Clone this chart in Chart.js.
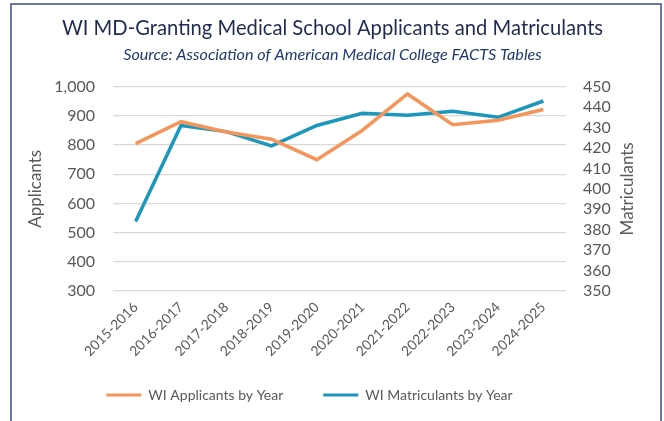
<!DOCTYPE html>
<html>
<head>
<meta charset="utf-8">
<script src="https://cdn.jsdelivr.net/npm/chart.js@4.4.1/dist/chart.umd.min.js"></script>
<style>
  html, body { margin: 0; padding: 0; background: #ffffff; }
  #wrap { position: relative; width: 664px; height: 421px; overflow: hidden; }
  #frame { position: absolute; left: 10px; top: 3px; width: 648px; height: 440px;
           border: 2px solid #6A7AA8; border-bottom: none; pointer-events: none; }
  canvas { position: absolute; left: 0; top: 0; }
</style>
</head>
<body>
<div id="wrap">
  <canvas id="c" width="664" height="421"></canvas>
  <div id="frame"></div>
</div>
<script>
const categories = ['2015-2016','2016-2017','2017-2018','2018-2019','2019-2020','2020-2021','2021-2022','2022-2023','2023-2024','2024-2025'];
const applicants = [805, 880, 845, 820, 750, 850, 975, 870, 885, 922];
const matriculants = [384, 431, 428, 421, 431, 437, 436, 438, 435, 443];
const titleText = 'WI MD-Granting Medical School Applicants and Matriculants';
const subtitleText = 'Source: Association of American Medical College FACTS Tables';
const leftAxisTitle = 'Applicants';
const rightAxisTitle = 'Matriculants';

const FONT = 'Lato, "Open Sans", sans-serif';
const GRAY = '#595959';
const ORANGE = '#F4965B';
const TEAL = '#1C97BC';

const tweaks = {
  id: 'tweaks',
  afterLayout(chart) {
    const lg = chart.legend;
    if (lg) { lg.left -= 23; lg.right -= 23; }
    // let the rotated category labels extend left of the plot area
    chart.scales.x._computeLabelArea = () => undefined;
  },
  afterDraw(chart) {
    // right axis title, reading bottom-to-top like the left one
    const s = chart.scales.y1;
    const ctx = chart.ctx;
    ctx.save();
    ctx.translate(s.right - 12, (chart.chartArea.top + chart.chartArea.bottom) / 2);
    ctx.rotate(-Math.PI / 2);
    ctx.textAlign = 'center';
    ctx.textBaseline = 'middle';
    ctx.fillStyle = GRAY;
    ctx.font = '17px ' + FONT;
    ctx.fillText(rightAxisTitle, 0, 0);
    ctx.restore();
  }
};

new Chart(document.getElementById('c'), {
  type: 'line',
  data: {
    labels: categories,
    datasets: [
      { label: 'WI Applicants by Year', data: applicants, yAxisID: 'y',
        borderColor: ORANGE, backgroundColor: ORANGE, borderWidth: 3.5,
        pointRadius: 0, tension: 0 },
      { label: 'WI Matriculants by Year', data: matriculants, yAxisID: 'y1',
        borderColor: TEAL, backgroundColor: TEAL, borderWidth: 3.5,
        pointRadius: 0, tension: 0 }
    ]
  },
  options: {
    responsive: false,
    animation: false,
    layout: { padding: { left: 25, right: 24, top: 3, bottom: 9 } },
    plugins: {
      title: { display: true, text: titleText, color: '#1F2B50',
        font: { family: FONT, size: 20.2, weight: 'normal' }, padding: { top: 13, bottom: 5 } },
      subtitle: { display: true, text: subtitleText, color: '#1F3A70',
        font: { family: FONT, size: 16.2, style: 'italic' }, padding: { top: 0, bottom: 22 } },
      legend: { position: 'bottom',
        labels: { color: GRAY, font: { family: FONT, size: 14 }, boxWidth: 35, boxHeight: 3, padding: 40,
          generateLabels(chart) {
            return Chart.defaults.plugins.legend.labels.generateLabels(chart).map(l => Object.assign(l, { lineWidth: 0 }));
          } } },
      tooltip: { enabled: false }
    },
    scales: {
      x: {
        offset: true,
        grid: { display: false },
        border: { display: false },
        ticks: { color: GRAY, font: { family: FONT, size: 13.8 }, maxRotation: 45, minRotation: 45, padding: 0, autoSkip: false },
        afterFit(s) { s.height = 57; }
      },
      y: {
        position: 'left', min: 300, max: 1000,
        ticks: { stepSize: 100, color: GRAY, font: { family: FONT, size: 16 }, padding: 18, autoSkip: false },
        grid: { color: '#D9D9D9', lineWidth: 1.2, drawTicks: false },
        border: { display: false },
        title: { display: true, text: leftAxisTitle, color: GRAY, font: { family: FONT, size: 17 }, padding: 0 },
        afterFit(s) { s.width = 88; }
      },
      y1: {
        position: 'right', min: 350, max: 450,
        ticks: { stepSize: 10, color: GRAY, font: { family: FONT, size: 16 }, padding: 17, autoSkip: false },
        grid: { drawOnChartArea: false, drawTicks: false },
        border: { display: false },
        afterFit(s) { s.width = 74; }
      }
    }
  },
  plugins: [tweaks]
});
</script>
</body>
</html>
